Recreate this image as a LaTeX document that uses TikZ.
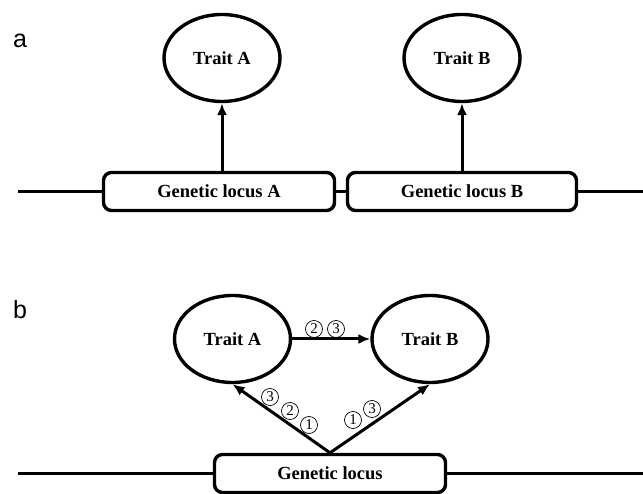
\documentclass[tikz,border=0pt]{standalone}
\usepackage{fontspec}
\setmainfont{Liberation Serif}
\newfontfamily\panelfont{Liberation Sans}
\usetikzlibrary{shapes.geometric,arrows.meta,positioning}
\tikzset{
  trait/.style={ellipse, draw, line width=3.4pt, minimum width=116pt, minimum height=87pt, font=\fontsize{18.5}{20}\selectfont\bfseries},
  locus/.style={rectangle, rounded corners=8pt, draw, line width=3.4pt, minimum height=38pt, font=\fontsize{18.5}{20}\selectfont\bfseries},
  effect/.style={line width=3pt, -{Latex[length=12pt,width=10pt]}},
  chrom/.style={line width=2.2pt},
  circnum/.style={circle, draw, line width=0.7pt, inner sep=0pt, minimum size=17pt, font=\fontsize{15}{15}\selectfont},
  panel/.style={font=\panelfont\fontsize{25}{25}\selectfont, anchor=base west, inner sep=0pt}
}
\begin{document}
\begin{tikzpicture}[x=1pt,y=-1pt]
    \useasboundingbox (0,0) rectangle (643,494);
    % panel a
    \node[panel] (la) at (13,48) {a};
    \node[trait] (ta) at (222,58) {Trait A};
    \node[trait] (tb) at (462,58) {Trait B};
    \node[locus, minimum width=231pt] (ga) at (219,191.5) {Genetic locus A};
    \node[locus, minimum width=229pt] (gb) at (462,191.5) {Genetic locus B};
    \coordinate (ca) at (18,191.5);
    \coordinate (cb) at (643,191.5);
    \draw[chrom] (ca) -- (ga.west) (ga.east) -- (gb.west) (gb.east) -- (cb);
    \draw[effect] (ga.north -| ta.south) -- (ta.south);
    \draw[effect] (gb.north) -- (tb.south);
    % panel b
    \node[panel] (lb) at (13,319) {b};
    \node[trait] (tab) at (232.5,339) {Trait A};
    \node[trait] (tbb) at (430,339) {Trait B};
    \node[locus, minimum width=231pt] (g) at (330,473.5) {Genetic locus};
    \coordinate (cc) at (18,473.5);
    \coordinate (cd) at (643,473.5);
    \draw[chrom] (cc) -- (g.west) (g.east) -- (cd);
    \draw[effect] (tab) -- (tbb);
    \draw[effect] (g.north) -- (tab.south);
    \draw[effect] (g.north) -- (tbb.south);
    \foreach \n/\x/\y [count=\i] in {2/314/329, 3/336/329, 3/270/397, 2/290/411, 1/309/425, 1/353/420, 3/372/409}
        \node[circnum] (c\i) at (\x,\y) {\n};
\end{tikzpicture}
\end{document}
